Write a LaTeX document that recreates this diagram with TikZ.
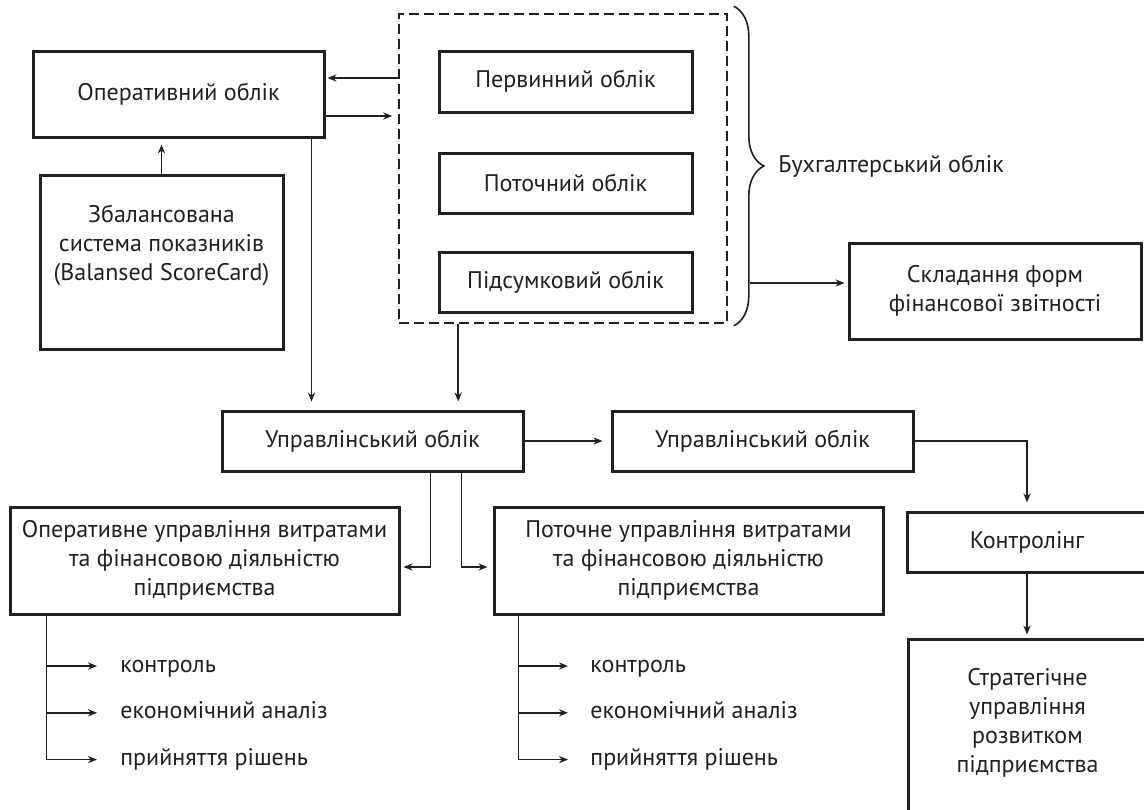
\documentclass[tikz,border=0pt]{standalone}
\usepackage{fontspec}
\setmainfont{PT Sans}
\usepackage{xcolor}
\usetikzlibrary{arrows.meta, positioning, calc, decorations.pathreplacing}
\definecolor{ink}{HTML}{231F20}
\newcommand{\boxfont}{\fontsize{12}{14.5}\selectfont}
\tikzstyle{block} = [rectangle, draw=ink, line width=1.5pt, text=ink, align=center, inner sep=0pt, font=\boxfont]
\tikzstyle{group} = [rectangle, draw=ink, line width=0.8pt, dash pattern=on 5pt off 2.5pt]
\tikzstyle{arrow} = [draw=ink, line width=0.75pt, -{Stealth[length=4.5pt,width=3.6pt]}]
\tikzstyle{item} = [anchor=west, inner sep=0pt, text=ink, font=\boxfont, text height=8.5pt, text depth=2.5pt]

\begin{document}
\begin{tikzpicture}[x=0.5pt, y=-0.5pt]
    \clip (0,0) rectangle (1144,809);
    % Accounting part
    \node (oper) [block, minimum width=145.5pt, minimum height=43pt] at (178.5,94) {Оперативний облік};
    \node (bsc) [block, minimum width=121.5pt, minimum height=87pt, text depth=19pt] at (161.5,262) {Збалансована\\система показників\\(Balansed ScoreCard)};
    \node (acct) [group, minimum width=164pt, minimum height=154.5pt] at (563,168.5) {};
    \node (prim) [block, minimum width=126.5pt, minimum height=30.5pt] at (565.5,81.5) {Первинний облік};
    \node (curr) [block, minimum width=126.5pt, minimum height=30pt, below=19pt of prim] {Поточний облік};
    \node (fin) [block, minimum width=126.5pt, minimum height=30pt, below=18pt of curr] {Підсумковий облік};
    \node (skl) [block, minimum width=146pt, minimum height=48pt] at (995,291) {Складання форм\\фінансової звітності};

    % Management part
    \node (upr) [block, minimum width=150.5pt, minimum height=30pt] at (372.5,441) {Управлінський облік};
    \node (upr2) [block, minimum width=150.5pt, minimum height=30pt, right=43pt of upr] {Управлінський облік};
    \node (opm) [block, minimum width=194.5pt, minimum height=53.5pt] at (204.5,560.5) {Оперативне управління витратами\\та фінансовою діяльністю\\підприємства};
    \node (cpm) [block, minimum width=194.5pt, minimum height=53.5pt, right=46pt of opm] {Поточне управління витратами\\та фінансовою діяльністю\\підприємства};
    \node (ktr) [block, minimum width=120pt, minimum height=30pt] at (1027,542) {Контролінг};
    \node (strat) [block, minimum width=119.5pt, minimum height=95.5pt, text depth=14.5pt] at (1027.5,734.5) {Стратегічне\\управління\\розвитком\\підприємства};

    % Lists
    \node (ctl1) [item] at (120,666) {контроль};
    \node (an1) [item, below right=12pt and 0pt of ctl1.south west] {економічний аналіз};
    \node (dec1) [item, below right=12pt and 0pt of an1.south west] {прийняття рішень};
    \node (ctl2) [item] at (590,666) {контроль};
    \node (an2) [item, below right=12pt and 0pt of ctl2.south west] {економічний аналіз};
    \node (dec2) [item, below right=12pt and 0pt of an2.south west] {прийняття рішень};

    % Brace
    \coordinate (btop) at ([xshift=3pt,yshift=3.5pt]acct.north east);
    \coordinate (bbot) at ([xshift=3pt,yshift=-1pt]acct.south east);
    \draw [ink, line width=0.8pt, decorate, decoration={brace, amplitude=15pt}] (btop) -- (bbot);
    \node (buh) [anchor=west, inner sep=0pt, text=ink, font=\boxfont] at (778,166) {Бухгалтерський облік};
    \coordinate (bstem) at (750,283);

    % Arrows
    \coordinate (in1) at ([yshift=8pt]oper.east);
    \coordinate (out1) at ([yshift=-11pt]oper.east);
    \draw [arrow, shorten >=1pt] (in1 -| acct.west) -- (in1);
    \draw [arrow, shorten >=3pt] (out1) -- (out1 -| acct.west);
    \draw [arrow, shorten >=3pt] (bsc.north) -- (bsc.north |- oper.south);
    \coordinate (o2) at ([xshift=-7pt]oper.south east);
    \draw [arrow, shorten >=4pt] (o2) -- (o2 |- upr.north);
    \coordinate (a2) at ([xshift=30pt]acct.south west);
    \draw [arrow, shorten >=4pt] (a2) -- (a2 |- upr.north);
    \draw [arrow, shorten >=1.5pt] (bstem) -- (bstem -| skl.west);
    \draw [arrow, shorten >=4pt] (upr) -- (upr2);
    \coordinate (u1) at ([xshift=-47pt]upr.south east);
    \coordinate (u2) at ([xshift=-31.5pt]upr.south east);
    \draw [arrow, shorten >=1.5pt] (u1) |- ([yshift=-3.25pt]opm.east);
    \draw [arrow, shorten >=2.5pt] (u2) |- ([yshift=-3.25pt]cpm.west);
    \draw [arrow, shorten >=4pt] (upr2.east) -| (ktr.north);
    \draw [arrow, shorten >=1.5pt] (ktr.south) -- (ktr.south |- strat.north);

    % List arrows
    \coordinate (lt) at ([xshift=19pt]opm.south west);
    \draw [arrow, shorten >=11.5pt] (lt) |- (ctl1.west);
    \draw [arrow, shorten >=11.5pt] (lt) |- (an1.west);
    \draw [arrow, shorten >=11.5pt] (lt) |- (dec1.west);
    \coordinate (rt) at ([xshift=13pt]cpm.south west);
    \draw [arrow, shorten >=11pt] (rt) |- (ctl2.west);
    \draw [arrow, shorten >=11pt] (rt) |- (an2.west);
    \draw [arrow, shorten >=11pt] (rt) |- (dec2.west);
\end{tikzpicture}
\end{document}
